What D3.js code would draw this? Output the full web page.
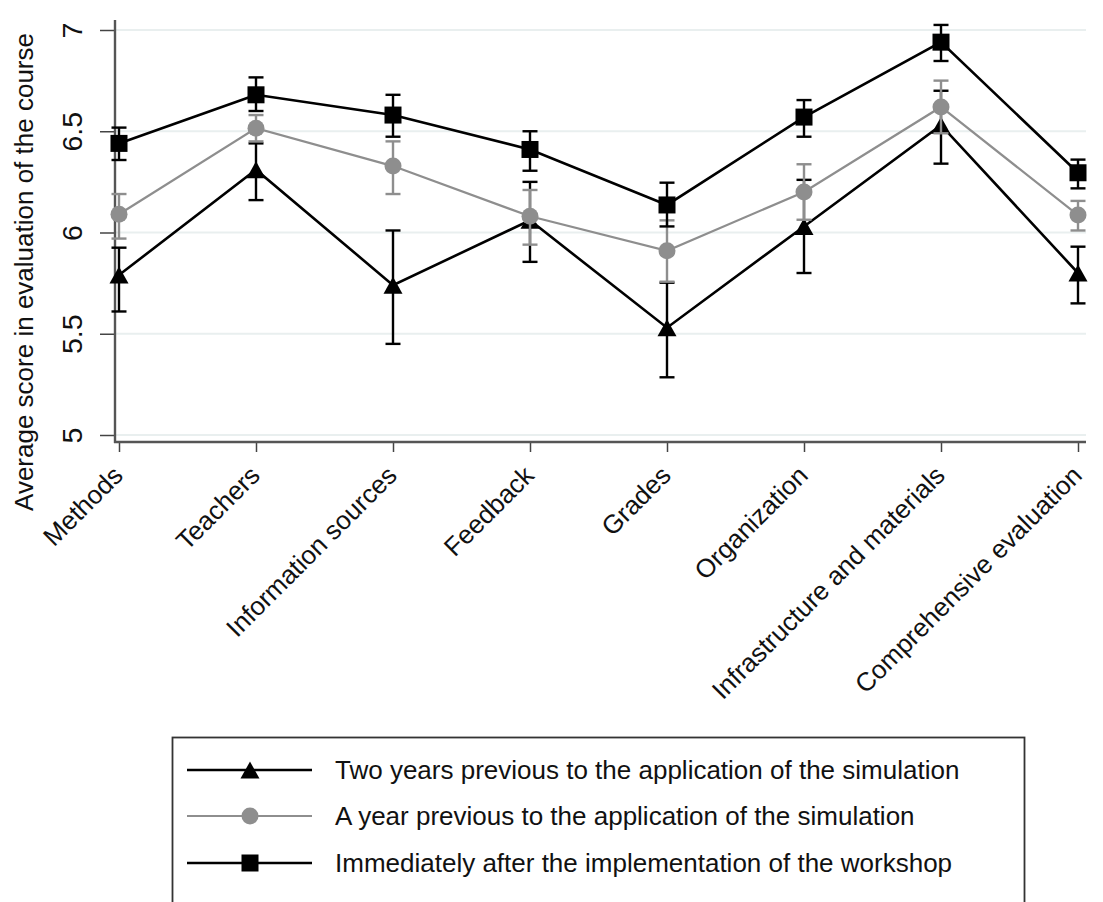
<!DOCTYPE html>
<html>
<head>
<meta charset="utf-8">
<script src="https://cdn.jsdelivr.net/npm/d3@7"></script>
<style>
  body { margin: 0; background: #fff; }
  svg { display: block; font-family: "Liberation Sans", Arial, Helvetica, sans-serif; }
</style>
</head>
<body>
<div id="chart"></div>
<script>
const categories = ['Methods', 'Teachers', 'Information sources', 'Feedback', 'Grades',
  'Organization', 'Infrastructure and materials', 'Comprehensive evaluation'];
const yTicks = [5, 5.5, 6, 6.5, 7];

// two years before the simulation (triangles)
const twoYears   = [5.79, 6.31, 5.74, 6.06, 5.53, 6.03, 6.53, 5.80];
const twoYearsLo = [5.61, 6.16, 5.45, 5.855, 5.285, 5.80, 6.34, 5.65];
const twoYearsHi = [5.925, 6.44, 6.01, 6.25, 5.752, 6.26, 6.70, 5.93];

// one year before (grey circles)
const oneYear   = [6.09, 6.515, 6.328, 6.08, 5.91, 6.20, 6.62, 6.086];
const oneYearLo = [5.97, 6.45, 6.19, 5.94, 5.757, 6.063, 6.49, 6.01];
const oneYearHi = [6.19, 6.58, 6.45, 6.21, 6.06, 6.337, 6.75, 6.156];

// right after the workshop (squares)
const afterWs   = [6.44, 6.68, 6.58, 6.41, 6.136, 6.57, 6.94, 6.295];
const afterWsLo = [6.358, 6.60, 6.473, 6.305, 6.03, 6.473, 6.847, 6.218];
const afterWsHi = [6.518, 6.766, 6.68, 6.50, 6.246, 6.654, 7.025, 6.36];

const legendLabels = [
  'Two years previous to the application of the simulation',
  'A year previous to the application of the simulation',
  'Immediately after the implementation of the workshop'
];

const width = 1103, height = 902;
const grey = '#8e8e8e';

const svg = d3.select('#chart').append('svg')
  .attr('width', width)
  .attr('height', height);

const x = d3.scalePoint().domain(categories).range([119, 1078]);
const y = d3.scaleLinear().domain([5, 7]).range([435, 30]);

// grid
svg.append('g')
  .selectAll('line')
  .data(yTicks)
  .join('line')
  .attr('x1', 116).attr('x2', 1086)
  .attr('y1', d => y(d)).attr('y2', d => y(d))
  .attr('stroke', '#e9efef')
  .attr('stroke-width', 2);

// y axis
const yAxis = svg.append('g')
  .attr('transform', 'translate(115,0)')
  .call(d3.axisLeft(y).tickValues(yTicks).tickSize(15).tickSizeOuter(0).tickFormat(d3.format('')));
yAxis.select('.domain').remove();
yAxis.selectAll('.tick line').attr('stroke', '#444').attr('stroke-width', 1.5);
yAxis.selectAll('.tick text')
  .attr('font-size', 28.5)
  .attr('fill', '#111')
  .attr('text-anchor', 'middle')
  .attr('x', null).attr('dy', null)
  .attr('transform', 'translate(-33,0) rotate(-90)');
svg.append('line')
  .attr('x1', 115).attr('x2', 115).attr('y1', 20).attr('y2', 443)
  .attr('stroke', '#555').attr('stroke-width', 2.4);

// x axis
const xAxis = svg.append('g')
  .attr('transform', 'translate(0,442)')
  .call(d3.axisBottom(x).tickSize(10).tickSizeOuter(0));
xAxis.select('.domain').remove();
xAxis.selectAll('.tick line').attr('stroke', '#444').attr('stroke-width', 1.5);
xAxis.selectAll('.tick text')
  .attr('font-size', 26)
  .attr('fill', '#111')
  .attr('text-anchor', 'end')
  .attr('y', null).attr('dy', null)
  .attr('transform', 'translate(5,35) rotate(-45)');
svg.append('line')
  .attr('x1', 114).attr('x2', 1086).attr('y1', 442).attr('y2', 442)
  .attr('stroke', '#555').attr('stroke-width', 2.4);

// y title
svg.append('text')
  .attr('transform', 'translate(33,272) rotate(-90)')
  .attr('text-anchor', 'middle')
  .attr('font-size', 26)
  .attr('fill', '#111')
  .text('Average score in evaluation of the course');

function triPath(w, h) {
  return 'M0,' + (-h / 2) + 'L' + (w / 2) + ',' + (h / 2) + 'L' + (-w / 2) + ',' + (h / 2) + 'Z';
}

const series = [
  {mean: twoYears, lo: twoYearsLo, hi: twoYearsHi, color: '#000', lw: 2.6, shape: 'tri'},
  {mean: oneYear, lo: oneYearLo, hi: oneYearHi, color: grey, lw: 2.2, shape: 'circle'},
  {mean: afterWs, lo: afterWsLo, hi: afterWsHi, color: '#000', lw: 2.6, shape: 'square'}
];

const line = d3.line()
  .x((d, i) => x(categories[i]))
  .y(d => y(d));

function drawMarker(g, shape, color) {
  if (shape === 'tri') {
    g.append('path').attr('d', triPath(19, 17)).attr('fill', color);
  } else if (shape === 'circle') {
    g.append('circle').attr('r', 8.5).attr('fill', color);
  } else {
    g.append('rect').attr('x', -8.5).attr('y', -8.5).attr('width', 17).attr('height', 17).attr('fill', color);
  }
}

series.forEach(s => {
  const g = svg.append('g');
  const capW = 7.5;
  categories.forEach((c, i) => {
    const cx = x(c);
    g.append('line')
      .attr('x1', cx).attr('x2', cx)
      .attr('y1', y(s.lo[i])).attr('y2', y(s.hi[i]))
      .attr('stroke', s.color).attr('stroke-width', 2.4);
    [s.lo[i], s.hi[i]].forEach(v => {
      g.append('line')
        .attr('x1', cx - capW).attr('x2', cx + capW)
        .attr('y1', y(v)).attr('y2', y(v))
        .attr('stroke', s.color).attr('stroke-width', 2.4);
    });
  });
  g.append('path')
    .datum(s.mean)
    .attr('d', line)
    .attr('fill', 'none')
    .attr('stroke', s.color)
    .attr('stroke-width', s.lw);
  s.mean.forEach((v, i) => {
    const m = g.append('g').attr('transform', 'translate(' + x(categories[i]) + ',' + y(v) + ')');
    drawMarker(m, s.shape, s.color);
  });
});

// legend
const lg = svg.append('g');
lg.append('rect')
  .attr('x', 172.5).attr('y', 737.5)
  .attr('width', 852).attr('height', 200)
  .attr('fill', '#fff')
  .attr('stroke', '#333').attr('stroke-width', 1.8);

const rowY = [770, 816, 863];
series.forEach((s, i) => {
  lg.append('line')
    .attr('x1', 187).attr('x2', 312)
    .attr('y1', rowY[i]).attr('y2', rowY[i])
    .attr('stroke', s.color).attr('stroke-width', s.lw);
  const m = lg.append('g').attr('transform', 'translate(250,' + rowY[i] + ')');
  drawMarker(m, s.shape, s.color);
  lg.append('text')
    .attr('x', 335).attr('y', rowY[i] + 9)
    .attr('font-size', 26)
    .attr('fill', '#111')
    .text(legendLabels[i]);
});
</script>
</body>
</html>
